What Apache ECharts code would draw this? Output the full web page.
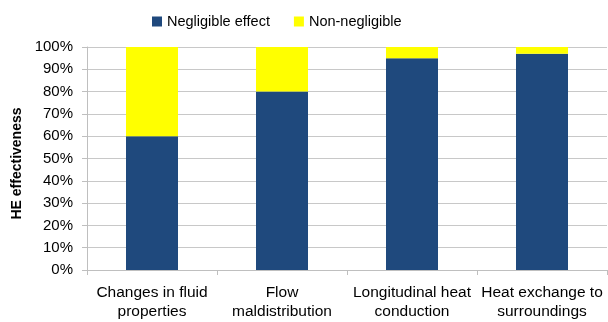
<!DOCTYPE html>
<html>
<head>
<meta charset="utf-8">
<script src="https://cdn.jsdelivr.net/npm/echarts@6/dist/echarts.min.js"></script>
<style>
  html, body { margin: 0; padding: 0; background: #fff; }
  #chart { width: 608px; height: 322px; }
</style>
</head>
<body>
<div id="chart"></div>
<script>
// categories and stacked shares (%)
const categories = [
  "Changes in fluid\nproperties",
  "Flow\nmaldistribution",
  "Longitudinal heat\nconduction",
  "Heat exchange to\nsurroundings",
];
const negligible = [60, 80, 95, 97];
const nonNegligible = [40, 20, 5, 3];

const font = "'Liberation Sans', Arial, sans-serif";

const chart = echarts.init(document.getElementById("chart"), null, { renderer: "canvas" });

chart.setOption({
  animation: false,
  textStyle: { fontFamily: font },
  legend: {
    top: 9,
    left: 147,
    itemWidth: 10,
    itemHeight: 10,
    itemGap: 24,
    icon: "rect",
    textStyle: { fontSize: 14.5, color: "#000", fontFamily: font },
    data: ["Negligible effect", "Non-negligible"],
  },
  grid: { left: 87, right: 1, top: 47, bottom: 52 },
  xAxis: {
    type: "category",
    data: categories,
    axisLine: { lineStyle: { color: "#bfbfbf" } },
    axisTick: { show: true, length: 5, lineStyle: { color: "#bfbfbf" } },
    axisLabel: { color: "#000", fontSize: 15.5, lineHeight: 19, margin: 13, interval: 0 },
  },
  yAxis: {
    type: "value",
    min: 0,
    max: 100,
    interval: 10,
    name: "HE effectiveness",
    nameLocation: "middle",
    nameGap: 62,
    nameTextStyle: { fontSize: 14, fontWeight: "bold", color: "#000", padding: [0, 0, 0, -10] },
    axisLine: { show: true, lineStyle: { color: "#bfbfbf" } },
    axisTick: { show: true, length: 5, lineStyle: { color: "#bfbfbf" } },
    axisLabel: { color: "#000", fontSize: 15, margin: 14, formatter: "{value}%" },
    splitLine: { lineStyle: { color: "#c8c8c8" } },
  },
  series: [
    {
      name: "Negligible effect",
      type: "bar",
      stack: "total",
      barWidth: "40%",
      itemStyle: { color: "#1f497d" },
      data: negligible,
    },
    {
      name: "Non-negligible",
      type: "bar",
      stack: "total",
      barWidth: "40%",
      itemStyle: { color: "#ffff00" },
      data: nonNegligible,
    },
  ],
});
</script>
</body>
</html>
